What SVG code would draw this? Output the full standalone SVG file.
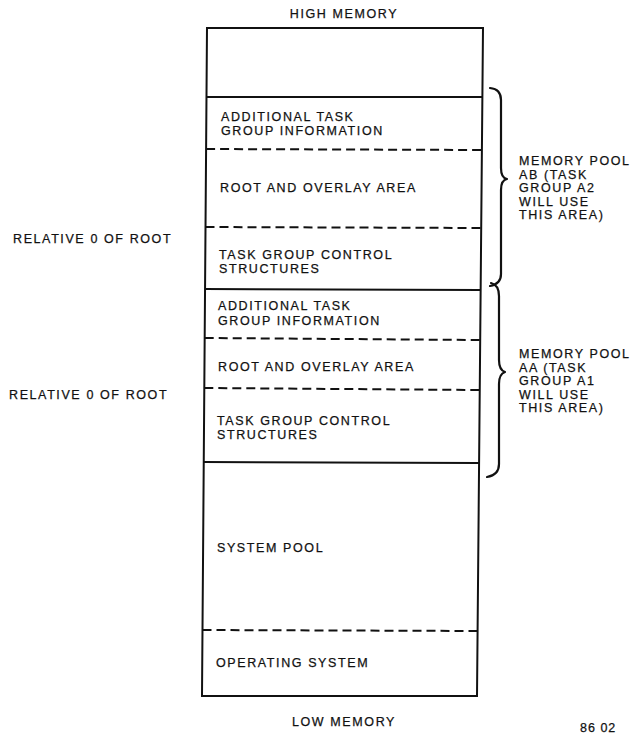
<svg xmlns="http://www.w3.org/2000/svg" width="631" height="734" viewBox="0 0 631 734">
<style>
  text { font-family: "Liberation Sans", Arial, sans-serif; font-size: 12.5px; fill: #111; stroke: #111; stroke-width: 0.25; letter-spacing: 1.6px; }
  .solid { stroke: #111; stroke-width: 2; fill: none; }
  .dash { stroke: #111; stroke-width: 2; fill: none; stroke-dasharray: 9 5; }
  .brace { stroke: #111; stroke-width: 2.2; fill: none; stroke-linecap: round; stroke-linejoin: round; }
</style>
<rect x="0" y="0" width="631" height="734" fill="#fff"/>
<text x="344" y="18" text-anchor="middle">HIGH MEMORY</text>
<text x="344" y="726" text-anchor="middle">LOW MEMORY</text>
<text x="13" y="243">RELATIVE 0 OF ROOT</text>
<text x="9" y="399">RELATIVE 0 OF ROOT</text>
<text x="580" y="732" style="letter-spacing:1px">86 02</text>

<g id="box-outline">
  <polygon class="solid" points="207,28 483,28 477,696 202,696"/>
</g>

<g id="top-free">
  <line class="solid" x1="206.5" y1="97" x2="482.4" y2="97"/>
</g>

<g id="ab-additional">
  <text x="221" y="121">ADDITIONAL TASK</text>
  <text x="221" y="135">GROUP INFORMATION</text>
  <line class="dash" x1="206.1" y1="149" x2="481.9" y2="150"/>
</g>
<g id="ab-root">
  <text x="220" y="192">ROOT AND OVERLAY AREA</text>
  <line class="dash" x1="205.5" y1="227" x2="481.2" y2="228"/>
</g>
<g id="ab-control">
  <text x="219" y="259">TASK GROUP CONTROL</text>
  <text x="219" y="273">STRUCTURES</text>
  <line class="solid" x1="205" y1="289" x2="480.7" y2="290"/>
</g>

<g id="aa-additional">
  <text x="218" y="310">ADDITIONAL TASK</text>
  <text x="218" y="325">GROUP INFORMATION</text>
  <line class="dash" x1="204.7" y1="338" x2="480.2" y2="340"/>
</g>
<g id="aa-root">
  <text x="218" y="371">ROOT AND OVERLAY AREA</text>
  <line class="dash" x1="204.3" y1="388" x2="479.8" y2="390"/>
</g>
<g id="aa-control">
  <text x="217" y="425">TASK GROUP CONTROL</text>
  <text x="217" y="439">STRUCTURES</text>
  <line class="solid" x1="203.7" y1="462" x2="479.1" y2="463"/>
</g>

<g id="system-pool">
  <text x="217" y="552">SYSTEM POOL</text>
  <line class="dash" x1="202.5" y1="630" x2="477.6" y2="631"/>
</g>
<g id="operating-system">
  <text x="216" y="667">OPERATING SYSTEM</text>
</g>

<g id="pool-ab">
  <path class="brace" d="M490,88 Q501,89 501,100 L501,168 Q501,178 507,179 Q501,180 501,190 L501,274 Q501,284 490,286"/>
  <text x="519" y="165">MEMORY POOL</text>
  <text x="519" y="178.5">AB (TASK</text>
  <text x="519" y="192">GROUP A2</text>
  <text x="519" y="205.5">WILL USE</text>
  <text x="519" y="219">THIS AREA)</text>
</g>
<g id="pool-aa">
  <path class="brace" d="M491,283 Q499,285 499,296 L499,360 Q499,370 505,372 Q499,374 499,384 L499,464 Q499,475 487,477"/>
  <text x="519" y="358">MEMORY POOL</text>
  <text x="519" y="371.5">AA (TASK</text>
  <text x="519" y="385">GROUP A1</text>
  <text x="519" y="398.5">WILL USE</text>
  <text x="519" y="412">THIS AREA)</text>
</g>
</svg>
